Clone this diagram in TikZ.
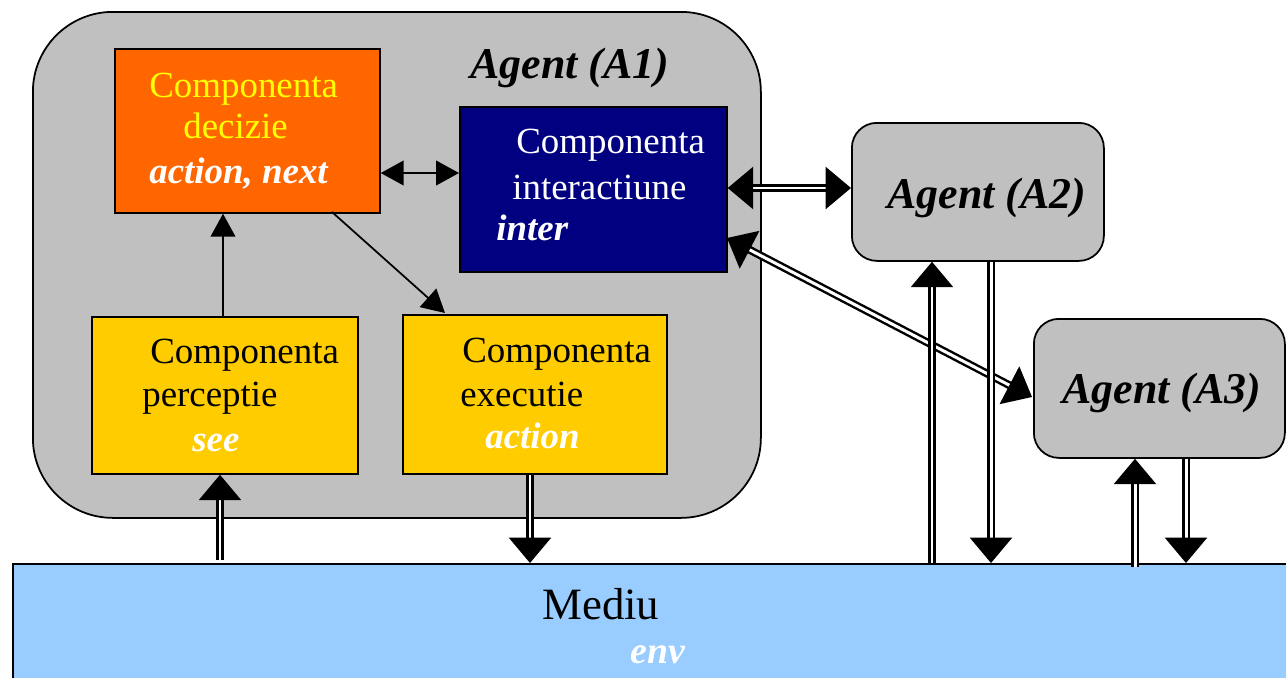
\documentclass[tikz,border=0pt]{standalone}
\usepackage{fontspec}
\setmainfont{Liberation Serif}
\usetikzlibrary{arrows.meta,calc}
\definecolor{agray}{HTML}{C0C0C0}
\definecolor{dorange}{HTML}{FF6600}
\definecolor{inavy}{HTML}{000080}
\definecolor{pyellow}{HTML}{FFCC00}
\definecolor{tyellow}{HTML}{FFFF00}
\definecolor{mblue}{HTML}{99CCFF}
\begin{document}
\begin{tikzpicture}[x=0.02cm,y=-0.02cm,
  boxst/.style={draw=black,line width=1pt,rectangle,inner sep=0pt},
  agentbox/.style={boxst,fill=agray},
  txt/.style={anchor=base west,inner sep=0pt,font=\fontsize{21}{25}\selectfont},
  btxt/.style={txt,font=\fontsize{21}{25}\selectfont\bfseries\itshape,text=white},
  agtxt/.style={anchor=base west,inner sep=0pt,font=\fontsize{25}{30}\selectfont\bfseries\itshape},
  sarrow/.style={line width=1pt,{Triangle[length=13pt,width=14pt]}-{Triangle[length=13pt,width=14pt]}},
  sarrowone/.style={line width=1pt,-{Triangle[length=13pt,width=14pt]}},
  dbl/.style={double=white,line width=1.4pt,double distance=1.7pt,-{Triangle[length=14.5pt,width=24pt]}},
  dblboth/.style={double=white,line width=1.4pt,double distance=1.7pt,{Triangle[length=14.5pt,width=24pt]}-{Triangle[length=14.5pt,width=24pt]}}
]
\useasboundingbox (0,0) rectangle (1286,677);

% Mediu
\node[boxst,fill=mblue,minimum width=1300*0.02cm,minimum height=140*0.02cm,anchor=north west] (mediu) at (12,563) {};
\node[anchor=base west,inner sep=0pt,font=\fontsize{25.5}{30}\selectfont] (mediutxt) at (542,619) {Mediu};
\node[anchor=base west,inner sep=0pt,font=\fontsize{21.5}{25}\selectfont\bfseries\itshape,text=white] (envtxt) at (630,663) {env};

% Agent A1
\node[agentbox,rounded corners=1.6cm,minimum width=728*0.02cm,minimum height=506*0.02cm,anchor=north west] (a1) at (32,11) {};
\node[agtxt] (a1txt) at (470,78) {Agent (A1)};

% Decizie
\node[boxst,fill=dorange,minimum width=265*0.02cm,minimum height=164*0.02cm,anchor=north west] (dec) at (114,48) {};
\node[txt,text=tyellow] (dec1) at (149,97) {Componenta};
\node[txt,text=tyellow] (dec2) at (183,138) {decizie};
\node[btxt] (dec3) at (149,183) {action, next};

% Interactiune
\node[boxst,fill=inavy,minimum width=267*0.02cm,minimum height=165*0.02cm,anchor=north west] (inter) at (459,106) {};
\node[txt,text=white] (int1) at (516,153) {Componenta};
\node[txt,text=white] (int2) at (512,199) {interactiune};
\node[btxt] (int3) at (496,240) {inter};

% Perceptie
\node[boxst,fill=pyellow,minimum width=266*0.02cm,minimum height=157*0.02cm,anchor=north west] (perc) at (91,316) {};
\node[txt] (per1) at (150,363) {Componenta};
\node[txt] (per2) at (142,406) {perceptie};
\node[btxt] (per3) at (192,451) {see};

% Executie
\node[boxst,fill=pyellow,minimum width=264*0.02cm,minimum height=159*0.02cm,anchor=north west] (exe) at (402,314) {};
\node[txt] (exe1) at (462,362) {Componenta};
\node[txt] (exe2) at (460,406) {executie};
\node[btxt] (exe3) at (485,448) {action};

% Agent A2
\node[agentbox,rounded corners=0.5cm,minimum width=252*0.02cm,minimum height=138*0.02cm,anchor=north west] (a2) at (851,122) {};
\node[agtxt] (a2txt) at (887,208) {Agent (A2)};

% Agent A3
\node[agentbox,rounded corners=0.5cm,minimum width=251*0.02cm,minimum height=139*0.02cm,anchor=north west] (a3) at (1033,318) {};
\node[agtxt] (a3txt) at (1062,403) {Agent (A3)};

% helper coordinates
\coordinate (yds) at (0,173);
\coordinate (xpd) at (223,0);
\coordinate (dstart) at (332,212);
\coordinate (dend) at (445,313);
\coordinate (ya2) at (0,188);
\coordinate (ia3) at (727,238);
\coordinate (a3in) at (1032,397);
\coordinate (xpu) at (220,0);
\coordinate (xed) at (530,0);
\coordinate (xa2u) at (932,0);
\coordinate (xa2d) at (991,0);
\coordinate (xa3u) at (1135,0);
\coordinate (xa3d) at (1186,0);
\coordinate (ybelow) at (0,567);
\coordinate (ypb) at (0,560);

% single arrows
\draw[sarrow] (dec.east |- yds) -- (inter.west |- yds);
\draw[sarrowone] (perc.north -| xpd) -- (dec.south -| xpd);
\draw[sarrowone] (dstart) -- (dend);

% double arrows
\draw[dblboth] (inter.east |- ya2) -- (a2.west |- ya2);
\draw[dblboth] (ia3) -- (a3in);
\draw[dbl] (xpu |- ypb) -- (perc.south -| xpu);
\draw[dbl] (exe.south -| xed) -- (mediu.north -| xed);
\draw[dbl] (mediu.north -| xa2u) -- (a2.south -| xa2u);
\draw[dbl] (a2.south -| xa2d) -- (mediu.north -| xa2d);
\draw[dbl] (xa3u |- ybelow) -- (a3.south -| xa3u);
\draw[dbl] (a3.south -| xa3d) -- (mediu.north -| xa3d);
\end{tikzpicture}
\end{document}
